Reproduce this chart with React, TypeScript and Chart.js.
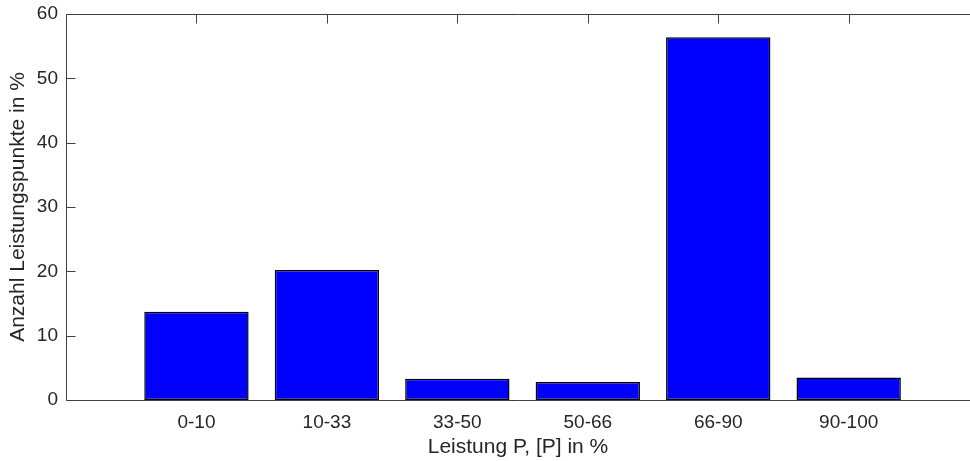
import React, { useEffect, useRef } from "react";
import { Chart, registerables } from "chart.js";

Chart.register(...registerables);

const categories = ["0-10", "10-33", "33-50", "50-66", "66-90", "90-100"];
const values = [13.7, 20.2, 3.3, 2.8, 56.4, 3.5];
const yTicks = [0, 10, 20, 30, 40, 50, 60];
const xTitle = "Leistung P, [P] in %";
const yTitle = "Anzahl Leistungspunkte in %";

const TEXT = "#262626";
const LINE = "#404040";
const FONT = "'Liberation Sans', Arial, Helvetica, sans-serif";

const boxPlugin = {
  id: "matlabBox",
  afterDatasetsDraw(chart: any) {
    const { ctx, chartArea } = chart;
    const xs = chart.scales.x;
    const ys = chart.scales.y;
    const L = Math.round(chartArea.left) + 0.5;
    const T = Math.round(chartArea.top) + 0.5;
    const B = Math.round(chartArea.bottom) + 0.5;
    const R = chartArea.right;
    const tl = 9;
    ctx.save();
    ctx.strokeStyle = LINE;
    ctx.lineWidth = 1;
    ctx.beginPath();
    ctx.moveTo(L, T);
    ctx.lineTo(R, T);
    ctx.moveTo(L, T);
    ctx.lineTo(L, B);
    ctx.moveTo(L, B);
    ctx.lineTo(R, B);
    categories.forEach((_, i) => {
      const px = Math.round(xs.getPixelForValue(i + 1)) + 0.5;
      ctx.moveTo(px, T);
      ctx.lineTo(px, T + tl);
    });
    yTicks.forEach((v) => {
      const py = Math.round(ys.getPixelForValue(v)) + 0.5;
      ctx.moveTo(L, py);
      ctx.lineTo(L + tl, py);
    });
    ctx.stroke();
    ctx.restore();
  },
};

export default function App() {
  const ref = useRef<HTMLCanvasElement | null>(null);
  useEffect(() => {
    if (!ref.current) return;
    const chart = new Chart(ref.current, {
      type: "bar",
      data: {
        datasets: [
          {
            data: values.map((v, i) => ({ x: i + 1, y: v })),
            backgroundColor: "#0000FF",
            borderColor: "#000000",
            borderWidth: 1.5,
            borderSkipped: false,
            barPercentage: 0.8,
            categoryPercentage: 1,
          },
        ],
      },
      options: {
        animation: false,
        responsive: true,
        maintainAspectRatio: false,
        layout: { padding: { top: 14, right: 0, left: 0, bottom: 0 } },
        plugins: {
          legend: { display: false },
          tooltip: { enabled: false },
        },
        scales: {
          x: {
            type: "linear",
            min: 0,
            max: 6.93,
            offset: false,
            grid: { display: false, drawTicks: false },
            border: { display: false },
            afterBuildTicks: (scale: any) => {
              scale.ticks = categories.map((_, i) => ({ value: i + 1 }));
            },
            afterFit: (scale: any) => {
              scale.height = 61;
              scale.paddingLeft = 0;
              scale.paddingRight = 0;
            },
            ticks: {
              autoSkip: false,
              maxRotation: 0,
              minRotation: 0,
              padding: 11,
              color: TEXT,
              font: { family: FONT, size: 19 },
              callback: (v: any) => categories[Math.round(Number(v)) - 1] ?? "",
            },
            title: {
              display: true,
              text: xTitle,
              color: TEXT,
              font: { family: FONT, size: 21 },
              padding: { top: 0, bottom: 1 },
            },
          },
          y: {
            min: 0,
            max: 60,
            grid: { display: false, drawTicks: false },
            border: { display: false },
            afterBuildTicks: (scale: any) => {
              scale.ticks = yTicks.map((v) => ({ value: v }));
            },
            afterFit: (scale: any) => {
              scale.width = 66;
              scale.paddingTop = 0;
              scale.paddingBottom = 0;
            },
            ticks: {
              padding: 8,
              color: TEXT,
              font: { family: FONT, size: 19 },
            },
            title: {
              display: true,
              text: yTitle,
              color: TEXT,
              font: { family: FONT, size: 21 },
              padding: { top: 6, bottom: 0 },
            },
          },
        },
      },
      plugins: [boxPlugin],
    } as any);
    return () => chart.destroy();
  }, []);
  return (
    <div
      style={{
        position: "fixed",
        left: 0,
        top: 0,
        width: "970px",
        height: "461px",
        background: "#ffffff",
      }}
    >
      <canvas ref={ref} />
    </div>
  );
}
